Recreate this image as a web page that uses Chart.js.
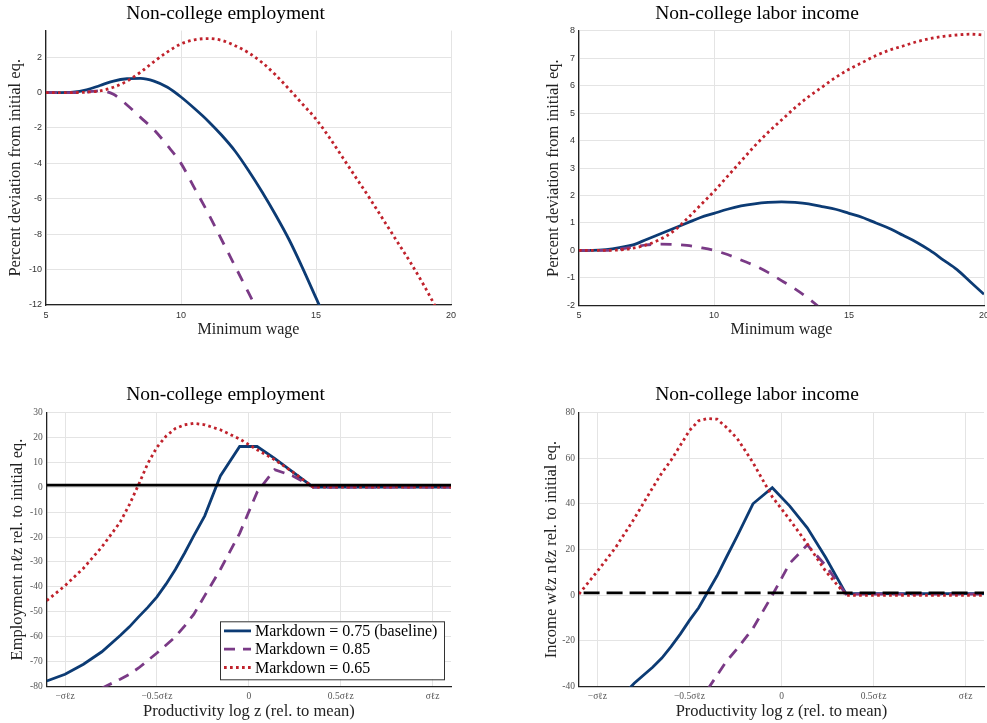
<!DOCTYPE html>
<html>
<head>
<meta charset="utf-8">
<script src="https://cdn.jsdelivr.net/npm/chart.js@4.4.1/dist/chart.umd.min.js"></script>
<style>
  body { margin: 0; background: #fff; }
  #wrap { position: relative; width: 987px; height: 723px; overflow: hidden; }
  canvas { position: absolute; }
</style>
</head>
<body>
<div id="wrap">
  <canvas id="c1" width="490" height="345" style="left:0;top:0"></canvas>
  <canvas id="c2" width="457" height="345" style="left:530px;top:0"></canvas>
  <canvas id="c3" width="490" height="343" style="left:0;top:380px"></canvas>
  <canvas id="c4" width="457" height="343" style="left:530px;top:380px"></canvas>
</div>
<script>
// minimum wage grid (top row)
var wage = [5, 5.5, 6, 6.5, 7, 7.5, 8, 8.5, 9, 9.5, 10, 10.5, 11, 11.5, 12, 12.5,
            13, 13.5, 14, 14.5, 15, 15.5, 16, 16.5, 17, 17.5, 18, 18.5, 19, 19.5, 20];

// Non-college employment, % deviation
var empBase = [0, 0, 0.02, 0.15, 0.4, 0.65, 0.78, 0.8, 0.65, 0.3, -0.25, -0.9, -1.6, -2.4, -3.3, -4.4,
               -5.6, -6.9, -8.3, -9.9, -11.6, -13.3, null, null, null, null, null, null, null, null, null];
var emp085 = [0, 0, 0, 0.03, 0.1, -0.1, -0.7, -1.4, -2.1, -3.0, -4.0, -5.4, -6.8, -8.3, -9.8, -11.3,
              -12.8, null, null, null, null, null, null, null, null, null, null, null, null, null, null];
var emp065 = [0, 0, 0, 0.02, 0.1, 0.3, 0.65, 1.15, 1.75, 2.3, 2.75, 2.98, 3.05, 2.95, 2.65, 2.25,
              1.7, 1.0, 0.2, -0.65, -1.5, -2.55, -3.7, -4.85, -6.0, -7.2, -8.4, -9.6, -10.9, -12.3, null];

// Non-college labor income, % deviation
var incBase = [0, 0, 0.03, 0.1, 0.2, 0.4, 0.6, 0.8, 1.0, 1.2, 1.35, 1.5, 1.62, 1.7, 1.75, 1.77,
               1.75, 1.7, 1.6, 1.5, 1.35, 1.2, 1.0, 0.8, 0.55, 0.3, 0.0, -0.35, -0.7, -1.15, -1.6];
var inc085 = [0, 0, 0, 0.05, 0.12, 0.2, 0.23, 0.22, 0.18, 0.1, 0.0, -0.15, -0.35, -0.55, -0.8, -1.1,
              -1.4, -1.75, -2.15, null, null, null, null, null, null, null, null, null, null, null, null];
var inc065 = [0, 0, 0, 0.02, 0.08, 0.2, 0.4, 0.7, 1.15, 1.65, 2.15, 2.7, 3.25, 3.8, 4.3, 4.75,
              5.2, 5.6, 5.95, 6.3, 6.6, 6.85, 7.1, 7.3, 7.45, 7.6, 7.72, 7.8, 7.85, 7.88, 7.85];

// productivity grid (bottom row), in units of sigma
var zs = [-1.1, -1.0, -0.9, -0.8, -0.7, -0.65, -0.6, -0.55, -0.5, -0.45, -0.4, -0.35,
          -0.3, -0.24, -0.155, -0.05, 0.045, 0.14, 0.24, 0.35, 0.5, 0.7, 0.9, 1.1];

// Employment n_lz rel. to initial eq.
var nBase = [-77.7, -75, -71, -66, -59.5, -56, -52, -48.2, -44, -38.8, -33, -26.5,
             -19.5, -11.5, 4.5, 16.3, 16.3, 11.5, 6, 0, 0, 0, 0, 0];
var n085 = [null, null, null, -80.6, -77, -75, -72.5, -69.5, -66.5, -63.3, -60, -55.7,
            -51, -43.5, -33, -18.5, -2, 7, 4.5, 0, 0, 0, 0, 0];
var n065 = [-45.5, -39.5, -32.5, -24, -14, -7, 1, 9.5, 16, 20.5, 23.5, 25,
            25.6, 25, 23, 19.3, 15, 11, 6, 0, 0, 0, 0, 0];
var nRef = 0.8;

// Income w_lz n_lz rel. to initial eq.
var wnBase = [null, null, -47, -38.5, -31.5, -27.5, -22.5, -17, -11, -5.5, 1.5, 8.5,
              16.5, 26, 40, 47, 39, 29.5, 16.5, 0.7, 0.7, 0.7, 0.7, 0.7];
var wn085 = [null, null, null, null, null, null, null, null, null, null, -41, -35,
             -29, -23.3, -14.5, 0, 14, 22, 13, 0.5, 0.5, 0.5, 0.5, 0.5];
var wn065 = [0.5, 10.5, 21, 33.5, 47, 53.5, 59, 65.5, 72, 76.3, 77.3, 77,
             73.5, 68.5, 58, 43, 33, 22.5, 10.5, 0, 0, 0, 0, 0];
var wnRef = 1;

// tick labels
var wageTicks = [5, 10, 15, 20];
var empTicks = [2, 0, -2, -4, -6, -8, -10, -12];
var incTicks = [-2, -1, 0, 1, 2, 3, 4, 5, 6, 7, 8];
var nTicks = [30, 20, 10, 0, -10, -20, -30, -40, -50, -60, -70, -80];
var wnTicks = [-40, -20, 0, 20, 40, 60, 80];
var zTicks = [-1, -0.5, 0, 0.5, 1];
var zTickLabels = ['\u2212\u03c3\u2113z', '\u22120.5\u03c3\u2113z', '0', '0.5\u03c3\u2113z', '\u03c3\u2113z'];

var labels = ['Markdown = 0.75 (baseline)', 'Markdown = 0.85', 'Markdown = 0.65'];
var BLUE = '#0c3b74', PURPLE = '#7a3a86', RED = '#c0222c';
var SERIF = "'Liberation Serif', 'DejaVu Serif', serif";
var SANS = "'Liberation Sans', Arial, sans-serif";

function pts(xs, ys) {
  return xs.map(function (x, i) { return { x: x, y: ys[i] }; });
}

function lineSets(xs, a, b, c, dash, smooth) {
  var mode = smooth ? 'monotone' : 'default';
  return [
    { label: labels[0], data: pts(xs, a), borderColor: BLUE, borderWidth: 2.8, order: 3, cubicInterpolationMode: mode },
    { label: labels[1], data: pts(xs, b), borderColor: PURPLE, borderWidth: 2.8, borderDash: dash, order: 2, cubicInterpolationMode: mode },
    { label: labels[2], data: pts(xs, c), borderColor: RED, borderWidth: 2.8, borderDash: [2.7, 3.3], order: 1, cubicInterpolationMode: mode }
  ];
}

function refLine(y, dash) {
  return { data: [{ x: -1.2, y: y }, { x: 1.2, y: y }], borderColor: '#000', borderWidth: 2.8,
           borderDash: dash, order: 0 };
}

// legend drawn inside the plot area, bottom right
var legendBox = {
  id: 'legendBox',
  afterDatasetsDraw: function (chart) {
    var ctx = chart.ctx, area = chart.chartArea;
    var items = chart.data.datasets.filter(function (d) { return d.label; });
    var w = 224, h = 58;
    var x0 = area.right - 7 - w, y0 = area.bottom - 7.4 - h;
    ctx.save();
    ctx.fillStyle = '#fff';
    ctx.fillRect(x0, y0, w, h);
    ctx.strokeStyle = '#333';
    ctx.lineWidth = 1;
    ctx.strokeRect(x0 + 0.5, y0 + 0.5, w, h);
    items.forEach(function (d, i) {
      var y = y0 + 9.6 + i * 18.3;
      ctx.beginPath();
      ctx.strokeStyle = d.borderColor;
      ctx.lineWidth = d.borderWidth;
      ctx.setLineDash(d.borderDash || []);
      ctx.moveTo(x0 + 4, y);
      ctx.lineTo(x0 + 31, y);
      ctx.stroke();
      ctx.setLineDash([]);
      ctx.fillStyle = '#000';
      ctx.font = '16px ' + SERIF;
      ctx.textBaseline = 'middle';
      ctx.fillText(d.label, x0 + 35, y + 1);
    });
    ctx.restore();
  }
};

function panel(id, p) {
  var tickFont = p.serifTicks ? { family: SERIF, size: 9.5 } : { family: SANS, size: 9 };
  var tickColor = p.serifTicks ? '#555' : '#333';
  new Chart(document.getElementById(id), {
    type: 'line',
    data: { datasets: p.datasets },
    plugins: p.plugins || [],
    options: {
      responsive: false,
      animation: false,
      events: [],
      layout: { padding: { left: 0, right: p.padRight, top: 0, bottom: 0 } },
      elements: { point: { radius: 0 }, line: { tension: 0, borderCapStyle: 'butt', fill: false } },
      plugins: {
        legend: { display: false },
        tooltip: { enabled: false },
        title: {
          display: true, text: p.title, color: '#000',
          font: { family: SERIF, size: 19.5, weight: 'normal' },
          padding: { top: p.titleTop, bottom: p.titleBottom }
        }
      },
      scales: {
        x: {
          type: 'linear', min: p.xMin, max: p.xMax,
          afterBuildTicks: function (s) { s.ticks = p.xTicks.map(function (v) { return { value: v }; }); },
          afterFit: function (s) { s.height = p.xHeight; s.paddingLeft = 0; s.paddingRight = 0; },
          grid: { color: '#e4e4e4', lineWidth: 1, drawTicks: false },
          border: { color: '#222', width: 1.3 },
          ticks: {
            font: tickFont, color: tickColor, padding: p.xTickPad, maxRotation: 0, autoSkip: false,
            callback: p.xLabel || function (v) { return v; }
          },
          title: { display: true, text: p.xTitle, color: '#222', font: { family: SERIF, size: p.xTitleSize },
                   padding: { top: 0, bottom: p.xTitlePad } }
        },
        y: {
          type: 'linear', min: p.yMin, max: p.yMax,
          afterBuildTicks: function (s) { s.ticks = p.yTicks.map(function (v) { return { value: v }; }); },
          afterFit: function (s) { s.width = p.yWidth; s.paddingTop = 0; s.paddingBottom = 0; },
          grid: { color: '#e4e4e4', lineWidth: 1, drawTicks: false },
          border: { color: '#222', width: 1.3 },
          ticks: { font: tickFont, color: tickColor, padding: 4, autoSkip: false },
          title: { display: true, text: p.yTitle, color: '#222', font: { family: SERIF, size: 16.5 },
                   padding: { top: p.yTitlePad, bottom: 0 } }
        }
      }
    }
  });
}

panel('c1', {
  title: 'Non-college employment', titleTop: 2, titleBottom: 5.2,
  datasets: lineSets(wage, empBase, emp085, emp065, [11, 9.5], true),
  xMin: 5, xMax: 20, xTicks: wageTicks, yMin: -12, yMax: 3.5, yTicks: empTicks,
  xTitle: 'Minimum wage', xTitleSize: 16, xTitlePad: 5.4, xHeight: 40, xTickPad: 5,
  yTitle: 'Percent deviation from initial eq.', yTitlePad: 6, yWidth: 46, padRight: 39
});

panel('c2', {
  title: 'Non-college labor income', titleTop: 2, titleBottom: 5.5,
  datasets: lineSets(wage, incBase, inc085, inc065, [11, 9.5], true),
  xMin: 5, xMax: 20, xTicks: wageTicks, yMin: -2, yMax: 8, yTicks: incTicks,
  xTitle: 'Minimum wage', xTitleSize: 16, xTitlePad: 5.4, xHeight: 39.7, xTickPad: 5,
  yTitle: 'Percent deviation from initial eq.', yTitlePad: 14, yWidth: 49, padRight: 3
});

var zLabel = function (v) {
  var i = zTicks.indexOf(v);
  return i >= 0 ? zTickLabels[i] : '';
};

panel('c3', {
  title: 'Non-college employment', titleTop: 3.6, titleBottom: 5.3,
  datasets: lineSets(zs, nBase, n085, n065, [11, 8], false).concat([refLine(nRef, [])]),
  plugins: [legendBox], serifTicks: true,
  xMin: -1.1, xMax: 1.1, xTicks: zTicks, xLabel: zLabel, yMin: -80, yMax: 30, yTicks: nTicks,
  xTitle: 'Productivity log z (rel. to mean)', xTitleSize: 16.5, xTitlePad: 1.7, xHeight: 36.3, xTickPad: 4,
  yTitle: 'Employment n\u2113z rel. to initial eq.', yTitlePad: 8, yWidth: 46.7, padRight: 39
});

panel('c4', {
  title: 'Non-college labor income', titleTop: 3.6, titleBottom: 5.3,
  datasets: lineSets(zs, wnBase, wn085, wn065, [11, 8], false).concat([refLine(wnRef, [16, 7])]),
  serifTicks: true,
  xMin: -1.1, xMax: 1.1, xTicks: zTicks, xLabel: zLabel, yMin: -40, yMax: 80, yTicks: wnTicks,
  xTitle: 'Productivity log z (rel. to mean)', xTitleSize: 16.5, xTitlePad: 1.7, xHeight: 36.3, xTickPad: 4,
  yTitle: 'Income w\u2113z n\u2113z rel. to initial eq.', yTitlePad: 12, yWidth: 49, padRight: 3
});
</script>
</body>
</html>
